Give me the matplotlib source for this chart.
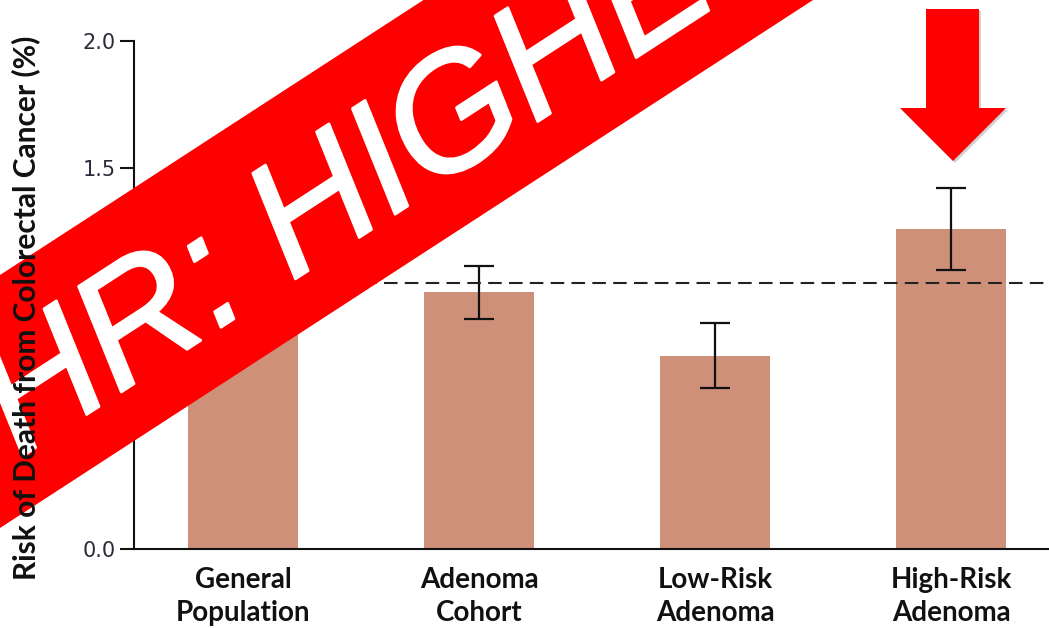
import matplotlib
matplotlib.use("Agg")
import matplotlib.pyplot as plt
import matplotlib.patheffects as pe
import numpy as np

# risk (%) per group, with 95% CI where reported
groups = ["General\nPopulation", "Adenoma\nCohort", "Low-Risk\nAdenoma", "High-Risk\nAdenoma"]
risk = [1.046, 1.013, 0.760, 1.260]
ci_low = [np.nan, 0.906, 0.635, 1.098]
ci_high = [np.nan, 1.114, 0.889, 1.421]
reference = 1.046  # general population level
yticks = [0.0, 0.5, 1.0, 1.5, 2.0]

bar_color = "#cf907a"
ink = "#2a2a3a"

W, H = 1049, 628
fig = plt.figure(figsize=(W / 100, H / 100), dpi=100)
ax = fig.add_axes([134 / W, 79 / H, 915 / W, 508 / H])

x = np.arange(len(groups))
ax.bar(x, risk, width=0.466, color=bar_color, zorder=2)
r = np.array(risk); lo = np.array(ci_low); hi = np.array(ci_high)
ok = ~np.isnan(lo)
ax.errorbar(x[ok], r[ok], yerr=[r[ok] - lo[ok], hi[ok] - r[ok]], fmt="none",
            ecolor="#111111", elinewidth=1.6, capsize=11, capthick=1.6, zorder=3)
ax.axhline(reference, color="#222222", lw=1.5, ls=(0, (6.5, 3.5)), zorder=4)

ax.set_xlim(-0.462, 3.415)
ax.set_ylim(0, 2.0)
ax.set_yticks(yticks)
ax.set_yticklabels([f"{v:.1f}" for v in yticks], fontsize=15, color=ink,
                   family="DejaVu Sans")
ax.set_xticks(x)
ax.set_xticklabels(groups, fontsize=20, fontweight="bold", family="Lato",
                   color="#111111", linespacing=1.35, va="top")
ax.tick_params(axis="x", length=0, pad=13)
ax.tick_params(axis="y", length=10, width=1.5, pad=3, color="#111111")
for s in ("top", "right"):
    ax.spines[s].set_visible(False)
for s in ("left", "bottom"):
    ax.spines[s].set_linewidth(1.5)
    ax.spines[s].set_color("#111111")

fig.text(26 / W, 1 - 36 / H, "Risk of Death from Colorectal Cancer (%)",
         rotation=90, ha="center", va="top", fontsize=21.5,
         fontweight="bold", family="Lato", color="#111111")

# overlay in pixel coordinates for the banner and arrow
ov = fig.add_axes([0, 0, 1, 1])
ov.set_xlim(0, W); ov.set_ylim(H, 0); ov.axis("off")

slope = np.tan(np.radians(33))
xs = np.array([-200, 1200])
top_edge = 275 - slope * xs
bot_edge = 528 - slope * xs
ov.fill([xs[0], xs[1], xs[1], xs[0]],
        [top_edge[0], top_edge[1], bot_edge[1], bot_edge[0]],
        color="#ff0000", lw=0, zorder=5)
ov.text(420, 198, "HR: HIGHER", rotation=33, rotation_mode="anchor",
        ha="center", va="baseline", fontsize=117, color="white",
        family="Liberation Sans", style="italic", zorder=6,
        path_effects=[pe.withStroke(linewidth=2, foreground="white")])

arrow_x = [926, 979, 979, 1006, 953, 900, 926]
arrow_y = [9, 9, 108, 108, 161, 108, 108]
ov.fill(np.array(arrow_x) + 2, np.array(arrow_y) + 2, color="#000000",
        alpha=0.18, lw=0, zorder=5)
ov.fill(arrow_x, arrow_y, color="#ff0000", lw=0, zorder=6)

fig.savefig("out.png", dpi=100)
